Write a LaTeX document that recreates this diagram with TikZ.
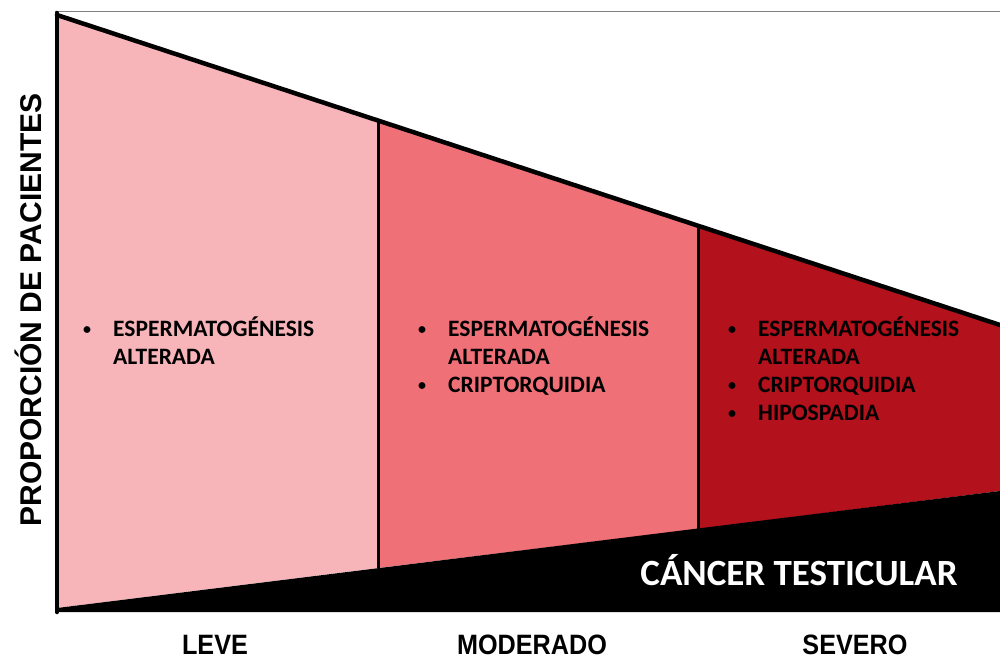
\documentclass[tikz,border=0pt]{standalone}
\usepackage{fontspec}
\setmainfont{Carlito}
\newfontfamily\axisfont{Liberation Sans}
\newfontfamily\gradefont[FakeStretch=0.9]{Liberation Sans}
\usepackage{xcolor}
\usepackage{tikz}
\usetikzlibrary{positioning}

\definecolor{leveColor}{HTML}{F7B5BA}
\definecolor{modColor}{HTML}{F07078}
\definecolor{sevColor}{HTML}{B3111B}

% small list bullet
\newcommand{\bul}{\raisebox{1.5pt}{\fontsize{16}{20}\selectfont •}}

\begin{document}
\begin{tikzpicture}[
    x=1pt, y=-1pt,
    border/.style={line width=4.5pt, line cap=round},
    divider/.style={line width=3pt},
    listtext/.style={anchor=base west, inner sep=0pt, font=\bfseries\fontsize{23.5}{28}\selectfont},
    grade/.style={font=\gradefont\bfseries\fontsize{28}{32}\selectfont, inner sep=0pt}
]
    \useasboundingbox (0,0) rectangle (1000,661);

    % Corners of the bands
    \coordinate (tl) at (57,15);
    \coordinate (t1) at (378,121);
    \coordinate (t2) at (698,226);
    \coordinate (tr) at (1000,325);
    \coordinate (bl) at (57,608);
    \coordinate (b1) at (378,568);
    \coordinate (b2) at (698,529);
    \coordinate (br) at (1000,491);
    \coordinate (ol) at (57,612);
    \coordinate (or) at (1000,612);

    % Bands
    \fill[leveColor] (tl) -- (t1) -- (b1) -- (bl) -- cycle;
    \fill[modColor] (t1) -- (t2) -- (b2) -- (b1) -- cycle;
    \fill[sevColor] (t2) -- (tr) -- (br) -- (b2) -- cycle;
    \fill[black] (bl) -- (br) -- (or) -- (ol) -- cycle;

    % Outlines
    \draw[gray, line width=1pt] (55,12) -- (1000,12);
    \draw[divider] (t1) -- (b1);
    \draw[divider] (t2) -- (b2);
    \draw[border] (tl) -- (tr);
    \draw[border] (57,13) -- (ol);

    % Texts
    \node[listtext] (leveList) at (83,336) {\begin{tabular}[t]{@{}p{30pt}@{}l@{}}
        \bul & ESPERMATOGÉNESIS\\ & ALTERADA\end{tabular}};
    \node[listtext] (modList) at (418,336) {\begin{tabular}[t]{@{}p{30pt}@{}l@{}}
        \bul & ESPERMATOGÉNESIS\\ & ALTERADA\\ \bul & CRIPTORQUIDIA\end{tabular}};
    \node[listtext] (sevList) at (728,336) {\begin{tabular}[t]{@{}p{30pt}@{}l@{}}
        \bul & ESPERMATOGÉNESIS\\ & ALTERADA\\ \bul & CRIPTORQUIDIA\\ \bul & HIPOSPADIA\end{tabular}};
    \node[text=white, font=\bfseries\fontsize{37}{44}\selectfont, inner sep=0pt] (cancer) at (799,570) {CÁNCER TESTICULAR};

    \node[rotate=90, font=\axisfont\bfseries\fontsize{30}{36}\selectfont, inner sep=0pt] (yLabel) at (28,310) {PROPORCIÓN DE PACIENTES};
    \node[grade] (leve) at (215,645) {LEVE};
    \node[grade] (moderado) at (532,645) {MODERADO};
    \node[grade] (severo) at (855,645) {SEVERO};
\end{tikzpicture}
\end{document}
